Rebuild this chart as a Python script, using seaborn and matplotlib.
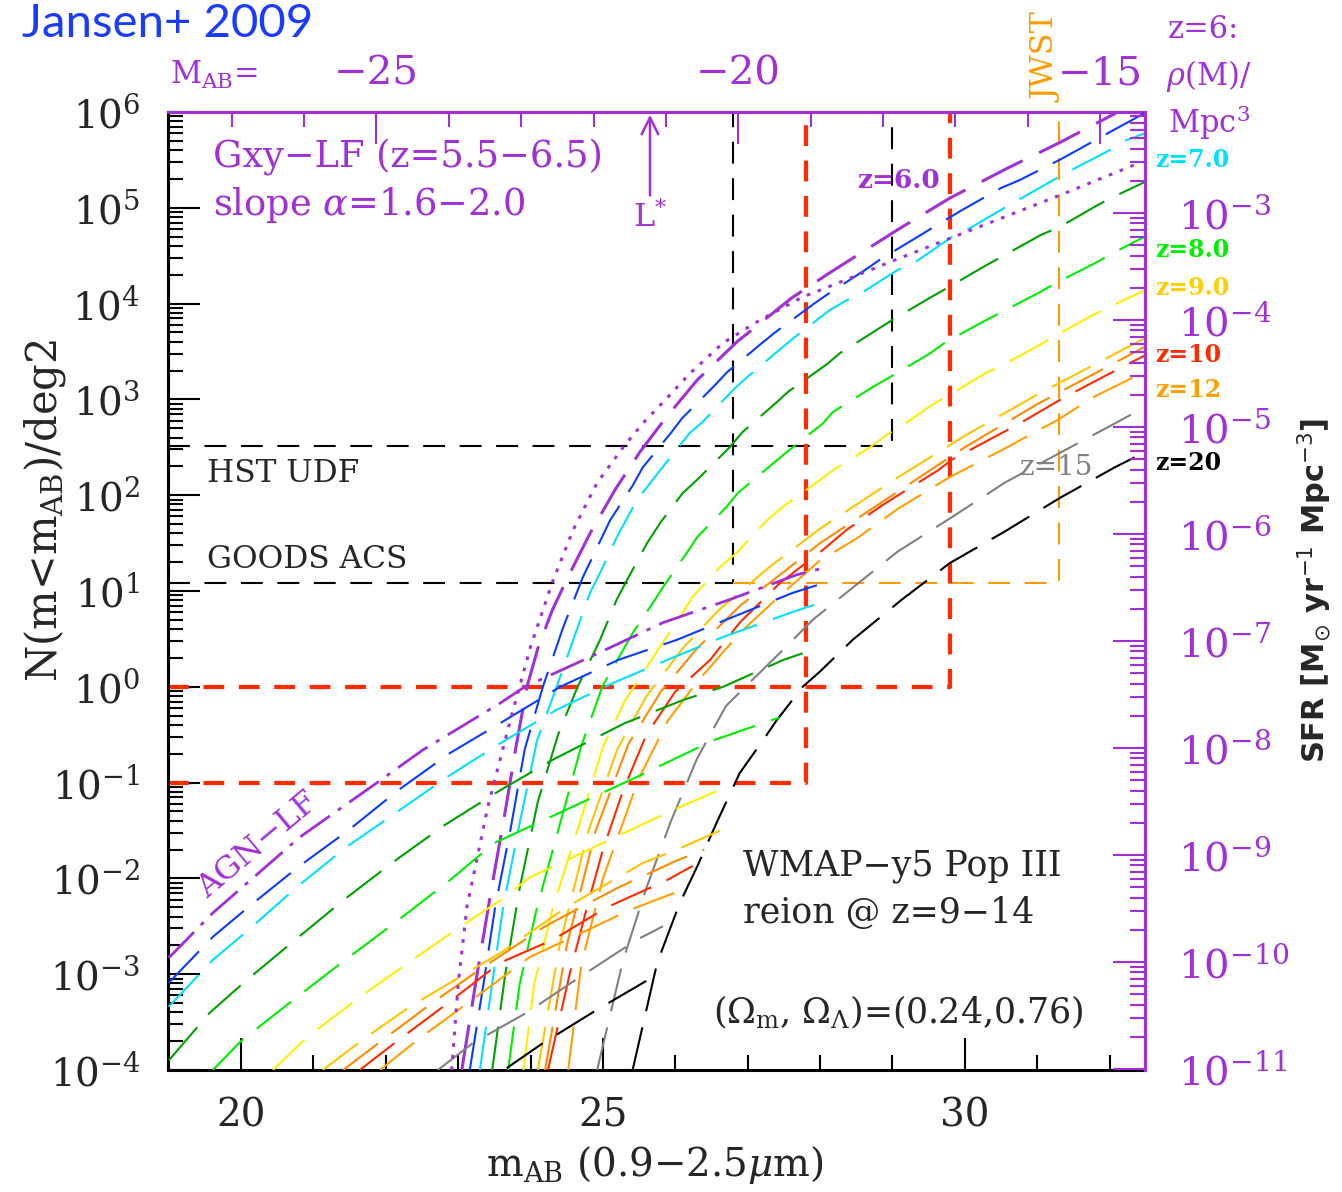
import matplotlib
matplotlib.use("Agg")
import matplotlib.pyplot as plt
import matplotlib.ticker as mticker
import numpy as np
import pandas as pd
import seaborn as sns

sns.set_style("ticks")
plt.rcParams["font.family"] = ["DejaVu Serif", "DejaVu Sans"]
plt.rcParams["mathtext.fontset"] = "dejavuserif"

PURPLE = "#a030d8"

redshifts = ["6.0", "6.5", "7.0", "7.5", "8.0", "8.5", "9.0", "9.5", "10", "12", "15", "20"]
z_colors = ["#a030d8", "#0a3cff", "#00e0ff", "#00a000", "#00ee00", "#ffee00",
            "#ffc400", "#ff8c00", "#ff2a00", "#ffa000", "#808080", "#000000"]

# galaxy LF cumulative counts, (m_AB, log10 N(<m) per deg2)
gxy_60 = [(23.05, -4.0), (23.25, -3.05), (23.45, -2.15), (23.65, -1.3), (23.8, -0.62), (23.95, 0.0),
          (24.1, 0.4), (24.3, 0.8), (24.5, 1.12), (24.82, 1.6), (25.17, 2.06), (25.51, 2.45),
          (25.86, 2.8), (26.3, 3.2), (26.85, 3.6), (27.61, 4.06), (28.13, 4.32), (29.07, 4.77),
          (29.79, 5.1), (30.58, 5.41), (31.31, 5.68), (32.04, 5.97), (32.49, 6.15)]
gxy_60_shallow = [(22.91, -4.0), (23.0, -3.1), (23.12, -2.3), (23.41, -1.25), (23.72, -0.35), (24.0, 0.42),
                  (24.31, 1.11), (24.59, 1.64), (24.92, 2.13), (25.28, 2.5), (25.55, 2.75), (25.83, 2.97),
                  (26.2, 3.27), (26.66, 3.59), (27.13, 3.81), (27.76, 4.07), (28.0, 4.14), (28.92, 4.42),
                  (29.79, 4.68), (31.31, 5.13), (32.35, 5.45)]
gxy_65 = [(23.16, -4.0), (23.35, -3.1), (23.51, -2.3), (23.72, -1.5), (23.92, -0.65), (24.17, 0.0),
          (24.45, 0.62), (24.72, 1.14), (24.96, 1.52), (25.1, 1.74), (25.41, 2.1), (25.55, 2.29),
          (25.95, 2.66), (26.09, 2.8), (26.55, 3.15), (26.71, 3.28), (27.2, 3.59), (27.38, 3.7),
          (27.9, 3.99), (28.09, 4.09), (28.62, 4.35), (28.83, 4.46), (29.77, 4.89), (29.97, 4.98),
          (30.51, 5.21), (30.76, 5.29), (31.31, 5.5), (31.55, 5.6), (32.1, 5.83), (32.49, 5.99)]
gxy_70 = [(23.3, -4.0), (23.45, -3.2), (23.62, -2.3), (23.85, -1.42), (24.09, -0.56), (24.36, 0.0),
          (24.5, 0.3), (24.82, 0.98), (24.96, 1.19), (25.19, 1.56), (25.47, 1.95), (25.79, 2.26),
          (26.2, 2.65), (26.37, 2.76), (26.8, 3.1), (26.99, 3.23), (27.49, 3.55), (27.65, 3.65),
          (28.13, 3.93), (28.38, 4.04), (28.59, 4.12), (29.07, 4.35), (29.31, 4.43), (29.83, 4.7),
          (30.03, 4.77), (30.55, 5.0), (31.41, 5.37), (32.0, 5.6), (32.18, 5.69), (32.49, 5.78)]
gxy_75 = [(23.47, -4.0), (23.65, -3.0), (23.85, -2.1), (24.1, -1.2), (24.38, -0.5), (24.65, 0.0),
          (24.96, 0.49), (25.19, 0.91), (25.33, 1.11), (25.61, 1.5), (25.79, 1.71), (26.1, 2.02),
          (26.3, 2.16), (26.75, 2.5), (26.93, 2.66), (27.4, 2.97), (27.56, 3.08), (28.1, 3.37),
          (28.27, 3.48), (29.0, 3.83), (29.54, 4.07), (29.75, 4.16), (30.25, 4.38), (30.51, 4.49),
          (31.06, 4.72), (31.31, 4.8), (31.84, 5.03), (32.04, 5.11), (32.49, 5.27)]
gxy_80 = [(23.69, -4.0), (23.85, -3.1), (24.09, -2.3), (24.41, -1.42), (24.7, -0.62), (24.99, 0.0),
          (25.41, 0.56), (25.65, 0.83), (25.83, 1.04), (26.16, 1.4), (26.3, 1.56), (26.71, 1.88),
          (26.86, 2.02), (27.38, 2.35), (27.54, 2.45), (28.04, 2.75), (28.18, 2.87), (28.73, 3.13),
          (28.96, 3.23), (29.52, 3.48), (29.72, 3.59), (30.25, 3.81), (30.48, 3.9), (31.04, 4.12),
          (31.27, 4.22), (31.82, 4.43), (32.0, 4.51), (32.49, 4.7)]
gxy_85 = [(23.9, -4.0), (24.05, -3.1), (24.31, -2.3), (24.68, -1.42), (25.0, -0.63), (25.3, -0.15),
          (25.61, 0.21), (25.79, 0.42), (26.1, 0.77), (26.24, 0.94), (26.62, 1.25), (26.85, 1.4),
          (27.27, 1.74), (27.49, 1.88), (28.0, 2.16), (28.18, 2.26), (28.69, 2.5), (28.92, 2.63),
          (29.24, 2.78), (29.54, 2.94), (29.75, 3.03), (30.3, 3.28), (30.48, 3.34), (31.04, 3.57),
          (31.22, 3.65), (31.77, 3.88), (31.96, 3.95), (32.49, 4.14)]
gxy_90 = [(24.1, -4.0), (24.4, -2.7), (24.8, -1.5), (25.2, -0.65), (25.6, -0.1), (26.1, 0.4),
          (26.6, 0.8), (27.3, 1.25), (28.0, 1.65), (29.0, 2.15), (30.0, 2.62), (31.0, 3.05), (32.49, 3.64)]
gxy_95 = [(24.2, -4.0), (24.5, -2.7), (24.9, -1.5), (25.35, -0.6), (25.8, -0.05), (26.3, 0.4),
          (26.9, 0.85), (27.5, 1.2), (28.0, 1.5), (29.0, 2.0), (30.0, 2.5), (31.0, 2.95), (32.49, 3.55)]
gxy_10 = [(24.24, -4.0), (24.54, -3.0), (24.78, -2.3), (25.0, -1.7), (25.28, -1.08), (25.6, -0.5),
          (26.0, -0.05), (26.48, 0.28), (26.89, 0.67), (27.44, 1.08), (28.04, 1.43), (28.37, 1.64),
          (28.87, 1.9), (29.63, 2.26), (29.82, 2.37), (30.76, 2.75), (31.35, 3.01), (31.9, 3.23), (32.49, 3.46)]
gxy_12 = [(24.52, -4.0), (24.7, -2.9), (25.0, -2.0), (25.5, -0.95), (25.9, -0.35), (26.3, 0.05),
          (26.89, 0.56), (27.13, 0.73), (27.49, 0.98), (28.0, 1.32), (28.51, 1.55), (29.06, 1.85),
          (29.77, 2.18), (30.51, 2.47), (31.27, 2.78), (31.82, 3.04), (32.49, 3.29)]
gxy_15 = [(24.92, -4.0), (25.28, -2.85), (25.6, -2.1), (25.93, -1.42), (26.3, -0.75), (26.7, -0.2),
          (27.21, 0.18), (27.44, 0.35), (27.9, 0.7), (28.41, 1.01), (29.07, 1.41), (29.82, 1.77),
          (30.55, 2.13), (31.31, 2.44), (32.1, 2.76), (32.49, 2.92)]
gxy_20 = [(25.41, -4.0), (25.61, -3.34), (25.75, -2.88), (26.06, -2.26), (26.3, -1.88), (26.57, -1.42),
          (26.89, -0.9), (27.21, -0.56), (27.4, -0.35), (27.76, 0.0), (28.0, 0.16), (28.45, 0.49),
          (29.13, 0.91), (29.79, 1.29), (30.55, 1.62), (31.31, 1.97), (32.07, 2.29), (32.49, 2.45)]

# AGN LF cumulative counts
agn_60 = [(19.0, -2.83), (19.61, -2.36), (20.81, -1.57), (21.88, -1.0), (22.51, -0.66), (23.58, -0.17),
          (23.92, 0.0), (24.82, 0.31), (25.83, 0.67), (26.75, 0.91), (27.68, 1.17), (28.1, 1.25)]
agn_65 = [(19.0, -3.09), (19.61, -2.61), (20.1, -2.3), (20.79, -1.88), (21.48, -1.5), (22.17, -1.08),
          (22.89, -0.69), (23.58, -0.38), (24.41, 0.0), (25.21, 0.28), (26.02, 0.49), (26.8, 0.73),
          (27.62, 0.98), (28.04, 1.08)]
agn_70 = [(19.0, -3.34), (19.61, -2.85), (20.1, -2.54), (20.77, -2.09), (21.46, -1.67), (22.13, -1.32),
          (22.85, -0.94), (23.58, -0.59), (24.36, -0.24), (25.14, 0.04), (25.95, 0.3), (26.66, 0.52),
          (27.58, 0.77), (28.13, 0.91)]
agn_75 = [(19.0, -3.9), (19.57, -3.4), (20.08, -3.06), (20.75, -2.64), (21.41, -2.23), (22.1, -1.83),
          (22.82, -1.44), (23.58, -1.08), (24.31, -0.76), (25.3, -0.38), (26.1, -0.14), (26.66, 0.0),
          (27.49, 0.28), (27.76, 0.35)]
agn_80 = [(19.61, -4.0), (20.01, -3.69), (20.77, -3.24), (21.44, -2.85), (22.13, -2.46), (22.85, -2.04),
          (23.5, -1.63), (24.5, -1.28), (25.5, -0.93), (26.52, -0.56), (27.44, -0.32)]
agn_85 = [(20.44, -4.0), (20.91, -3.66), (21.64, -3.24), (22.33, -2.87), (23.02, -2.51), (23.58, -2.23),
          (23.99, -1.99), (24.5, -1.81), (25.28, -1.53), (26.02, -1.27), (26.75, -1.03)]
agn_90 = [(21.13, -4.0), (21.67, -3.69), (22.33, -3.34), (23.02, -3.03), (23.58, -2.78), (24.5, -2.3),
          (25.55, -1.84), (26.02, -1.7), (26.62, -1.5)]
agn_95 = [(21.41, -4.0), (21.95, -3.69), (22.64, -3.3), (23.3, -2.95), (24.2, -2.5), (25.2, -2.1),
          (26.0, -1.82), (26.4, -1.7)]
agn_10 = [(21.64, -4.0), (22.17, -3.69), (22.86, -3.3), (23.58, -2.88), (24.31, -2.64), (25.06, -2.3),
          (25.88, -2.02), (26.24, -1.87)]
agn_12 = [(21.92, -4.0), (22.43, -3.69), (23.44, -3.13), (23.99, -2.82), (24.59, -2.61), (25.37, -2.33),
          (26.2, -2.09)]
agn_15 = [(22.72, -4.0), (23.2, -3.72), (23.95, -3.4), (24.68, -3.03), (25.47, -2.64), (25.83, -2.5)]
agn_20 = [(23.67, -3.98), (24.17, -3.72), (24.92, -3.37), (25.69, -3.03)]

gxy_curves = [gxy_60, gxy_65, gxy_70, gxy_75, gxy_80, gxy_85, gxy_90, gxy_95, gxy_10, gxy_12, gxy_15, gxy_20]
agn_curves = [agn_60, agn_65, agn_70, agn_75, agn_80, agn_85, agn_90, agn_95, agn_10, agn_12, agn_15, agn_20]

# survey depth limits (m_AB, N per deg2)
udf_limit = (29.0, 325.0)
goods_limit = (26.8, 12.0)
red_limits = [(27.8, 0.1), (29.8, 1.0)]
jwst_limit = (31.3, 12.0)
lstar_m = 25.65

rows = []
for z, col, pts in zip(redshifts, z_colors, gxy_curves):
    for m, lg in pts:
        rows.append(("gxy", z, col, m, 10 ** lg))
for z, col, pts in zip(redshifts, z_colors, agn_curves):
    for m, lg in pts:
        rows.append(("agn", z, col, m, 10 ** lg))
for m, lg in gxy_60_shallow:
    rows.append(("gxy_shallow", "6.0", PURPLE, m, 10 ** lg))
df = pd.DataFrame(rows, columns=["kind", "z", "color", "m", "N"])

W, H = 1342, 1192
fig = plt.figure(figsize=(W / 100, H / 100), dpi=100)
ax = fig.add_axes([168 / W, 1 - 1070 / H, 977 / W, 958 / H])
ax.set_yscale("log")
ax.set_xlim(18.99, 32.49)
ax.set_ylim(1e-4, 1e6)

XMIN, YTOP = 18.99, 1e6

# survey limit boxes
ax.plot([XMIN, udf_limit[0], udf_limit[0]], [udf_limit[1], udf_limit[1], YTOP],
        color="black", lw=1.5, ls=(0, (10.5, 7)), zorder=1)
ax.plot([XMIN, goods_limit[0], goods_limit[0]], [goods_limit[1], goods_limit[1], YTOP],
        color="black", lw=1.5, ls=(0, (10.5, 7)), zorder=1)
ax.plot([goods_limit[0], jwst_limit[0], jwst_limit[0]], [jwst_limit[1], jwst_limit[1], YTOP],
        color="#ff9a00", lw=1.5, ls=(0, (10.5, 7)), zorder=1)
for mlim, nlim in red_limits:
    ax.plot([XMIN, mlim, mlim], [nlim, nlim, YTOP], color="#ff2a00", lw=3.0,
            ls=(0, (5, 3.5)), zorder=1)

# curves
for (kind, z), sub in df.groupby(["kind", "z"], sort=False):
    col = sub["color"].iloc[0]
    if kind == "gxy":
        lw = 2.2 if z == "6.0" else 1.5
        ls = (0, (15, 6)) if z == "6.0" else (0, (21, 8))
    elif kind == "gxy_shallow":
        lw, ls = 2.2, (0, (1.2, 2.6))
    else:
        if z == "6.0":
            lw, ls = 2.0, (0, (13, 3.5, 1.5, 3.5))
        else:
            lw, ls = 1.5, (0, (21, 8))
    sns.lineplot(data=sub, x="m", y="N", ax=ax, color=col, lw=lw, linestyle=ls,
                 sort=False, estimator=None, legend=False, zorder=3)

ax.set_xlabel("")
ax.set_ylabel("")

# axes styling
for s in ["left", "bottom"]:
    ax.spines[s].set_color("black")
    ax.spines[s].set_linewidth(2.2)
for s in ["top", "right"]:
    ax.spines[s].set_color(PURPLE)
    ax.spines[s].set_linewidth(2.2)

ax.xaxis.set_major_locator(mticker.FixedLocator([20, 25, 30]))
ax.xaxis.set_minor_locator(mticker.MultipleLocator(1))
ax.yaxis.set_major_locator(mticker.LogLocator(base=10, numticks=20))
ax.yaxis.set_minor_locator(mticker.LogLocator(base=10, subs=np.arange(2, 10), numticks=20))
ax.yaxis.set_minor_formatter(mticker.NullFormatter())
ax.tick_params(axis="both", which="major", direction="in", length=23, width=1.5,
               labelsize=28, top=False, right=False, color="black")
ax.tick_params(axis="both", which="minor", direction="in", length=11, width=1.5,
               top=False, right=False, color="black")
ax.tick_params(axis="x", which="major", pad=20)
ax.tick_params(axis="y", which="major", pad=20)

# right axis: SFR density
ax2 = ax.twinx()
ax2.set_yscale("log")
ax2.set_ylim(10 ** -11.01, 10 ** -2.056)
for s in ["left", "bottom", "top"]:
    ax2.spines[s].set_visible(False)
ax2.spines["right"].set_color(PURPLE)
ax2.spines["right"].set_linewidth(2.2)
ax2.yaxis.set_major_locator(mticker.FixedLocator([10.0 ** k for k in range(-11, -1)]))
ax2.yaxis.set_minor_locator(mticker.LogLocator(base=10, subs=np.arange(2, 10), numticks=20))
ax2.yaxis.set_minor_formatter(mticker.NullFormatter())
ax2.yaxis.set_major_formatter(mticker.FuncFormatter(
    lambda v, _: r"$10^{%d}$" % round(np.log10(v)) if v < 5e-3 else ""))
ax2.tick_params(axis="y", which="major", direction="in", length=23, width=1.5,
                labelsize=29, colors=PURPLE, pad=24)
ax2.tick_params(axis="y", which="minor", direction="in", length=11, width=1.5, colors=PURPLE)

# top axis: absolute magnitude
secax = ax.secondary_xaxis("top", functions=(lambda m: m - 46.87, lambda M: M + 46.87))
secax.set_xticks([-25, -20, -15])
secax.set_xticklabels(["\u221225", "\u221220", "\u221215"])
secax.xaxis.set_minor_locator(mticker.MultipleLocator(1))
secax.spines["top"].set_color(PURPLE)
secax.spines["top"].set_linewidth(2.2)
secax.tick_params(axis="x", which="major", direction="in", length=23, width=1.5,
                  labelsize=29, colors=PURPLE, pad=14)
secax.tick_params(axis="x", which="minor", direction="in", length=11, width=1.5, colors=PURPLE)

# L* arrow
ax.annotate("", xy=(lstar_m, 1e6), xytext=(lstar_m, 10 ** 5.1),
            arrowprops=dict(arrowstyle="->", color=PURPLE, lw=1.8,
                            mutation_scale=30), zorder=5)


def ftext(px, py, s, **kw):
    fig.text(px / W, 1 - py / H, s, **kw)


ftext(22, 37, "Jansen+ 2009", fontsize=34, family="Lato", color="#1a3cff",
      ha="left", va="baseline")
ftext(170, 75, r"M$_{\rm AB}$=", fontsize=22, color=PURPLE, ha="left", va="center")
ftext(45, 510, r"N(m<m$_{\rm AB}$)/deg2", fontsize=30, rotation=90, ha="center", va="center")
ftext(655, 1165, r"m$_{\rm AB}$ (0.9$-$2.5$\mu$m)", fontsize=28, ha="center", va="center")
ftext(1315, 590, r"SFR [M$_{\odot}$ yr$^{-1}$ Mpc$^{-3}$]", fontsize=22, fontweight="bold",
      family="DejaVu Sans", math_fontfamily="dejavusans", rotation=90, ha="center", va="center")

ftext(213, 157, "Gxy\u2212LF (z=5.5\u22126.5)", fontsize=26.5, color=PURPLE, ha="left", va="center")
ftext(213, 205, r"slope $\alpha$=1.6$-$2.0", fontsize=26.5, color=PURPLE, ha="left", va="center")
ftext(650, 218, r"L$^{*}$", fontsize=23, color=PURPLE, ha="center", va="center")
ftext(898, 180, "z=6.0", fontsize=19, color=PURPLE, fontweight="bold", ha="center", va="center")
ftext(207, 473, "HST UDF", fontsize=22.5, ha="left", va="center")
ftext(207, 560, "GOODS ACS", fontsize=22.5, ha="left", va="center")
ftext(258, 845, "AGN\u2212LF", fontsize=23, color=PURPLE, rotation=40, ha="center", va="center")
ftext(743, 866, "WMAP\u2212y5 Pop III", fontsize=25, ha="left", va="center")
ftext(743, 913, "reion @ z=9\u221214", fontsize=25, ha="left", va="center")
ftext(713, 1012, r"($\Omega_{\rm m}$, $\Omega_{\Lambda}$)=(0.24,0.76)", fontsize=25, ha="left", va="center")
ftext(1057, 468, "z=15", fontsize=20, color="#808080", ha="center", va="center")
ftext(1047, 57, "JWST", fontsize=23, color="#ff9a00", rotation=90, ha="center", va="center")

ftext(1168, 30, "z=6:", fontsize=22, color=PURPLE, ha="left", va="center")
ftext(1166, 76, r"$\rho$(M)/", fontsize=22, color=PURPLE, ha="left", va="center")
ftext(1168, 122, r"Mpc$^{3}$", fontsize=22, color=PURPLE, ha="left", va="center")

right_labels = [("z=7.0", "#00e0ff", 160), ("z=8.0", "#00ee00", 250), ("z=9.0", "#ffd000", 288),
                ("z=10", "#ff2a00", 355), ("z=12", "#ffa000", 390), ("z=20", "#000000", 463)]
for txt, col, py in right_labels:
    ftext(1155, py, txt, fontsize=17, fontweight="bold", color=col, ha="left", va="center")

fig.savefig("out.png", dpi=100)
